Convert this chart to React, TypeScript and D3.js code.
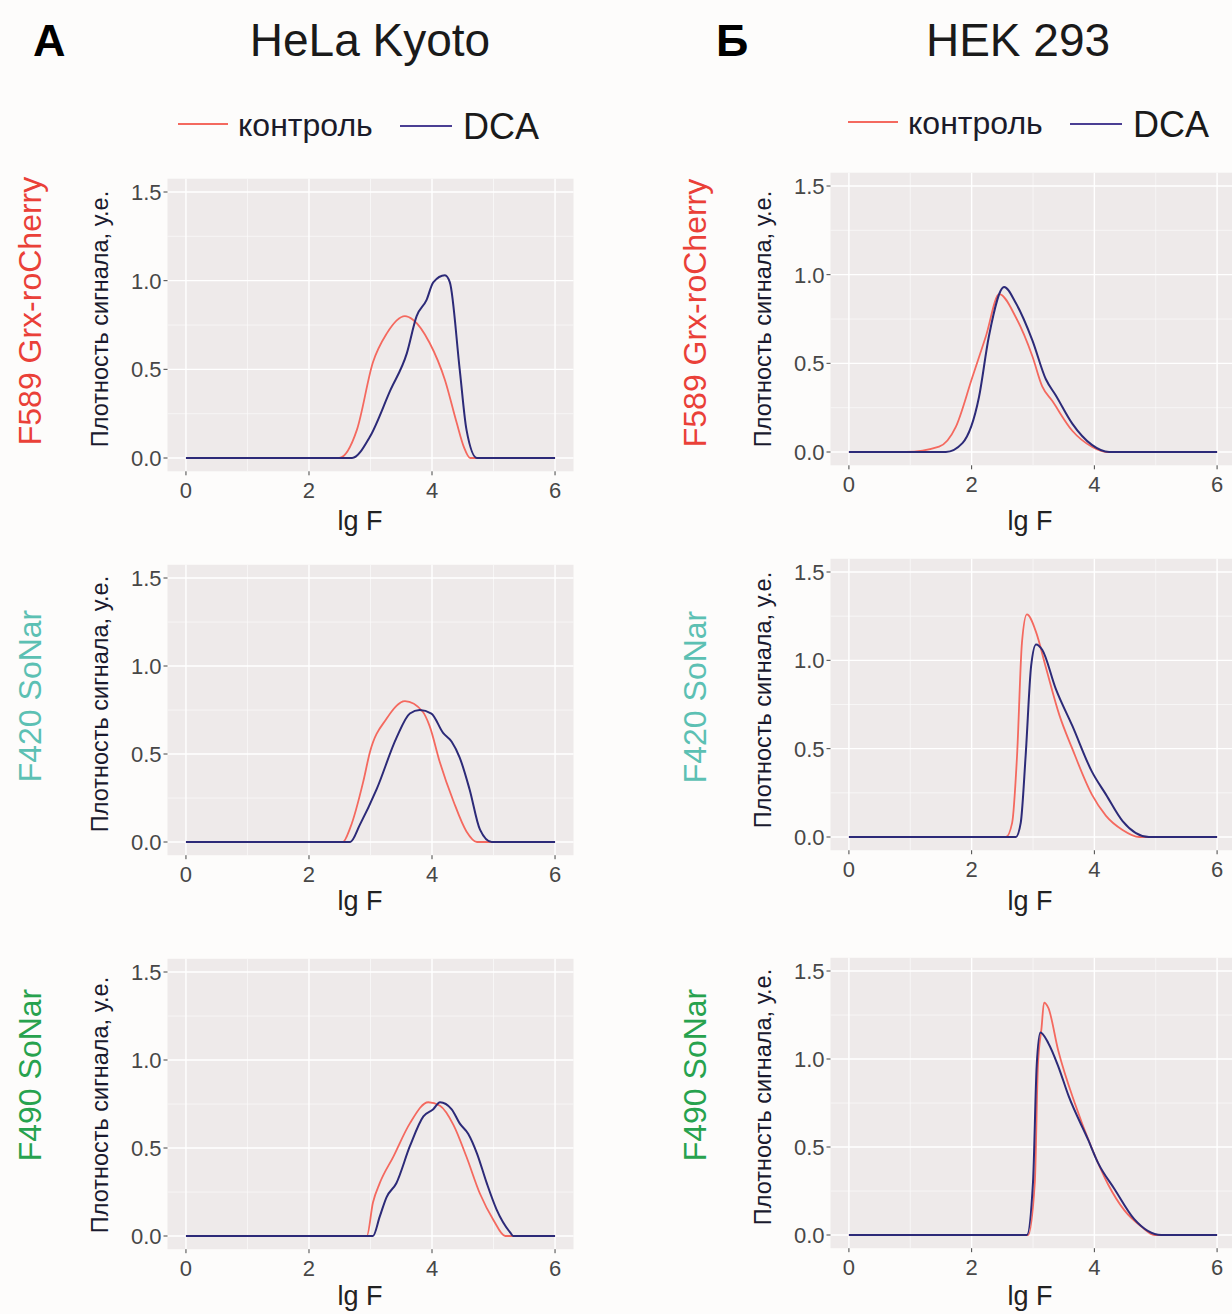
import React from "react";
import * as d3 from "d3";

type Pt = [number, number];

// ---------- data (x = lg F, y = density) ----------
const xTicks = [0, 2, 4, 6];
const xMinor = [1, 3, 5];
const yTicks = [0, 0.5, 1.0, 1.5];
const yMinor = [0.25, 0.75, 1.25];
const seriesNames = ["контроль", "DCA"];
const columnTitles = ["HeLa Kyoto", "HEK 293"];
const columnLetters = ["А", "Б"];
const rowLabels = ["F589 Grx-roCherry", "F420 SoNar", "F490 SoNar"];

const helaGrxCtrl: Pt[] = [[0,0],[2.49,0],[2.78,0.16],[3.04,0.54],[3.26,0.70],[3.56,0.80],[3.69,0.78],[3.96,0.65],[4.21,0.44],[4.4,0.2],[4.52,0.06],[4.62,0],[6,0]];
const helaGrxDca: Pt[] = [[0,0],[2.70,0],[2.99,0.12],[3.32,0.38],[3.59,0.59],[3.75,0.80],[3.91,0.89],[4.02,0.99],[4.21,1.03],[4.29,0.99],[4.45,0.50],[4.56,0.16],[4.73,0],[6,0]];
const hekGrxCtrl: Pt[] = [[0,0],[0.93,0],[1.47,0.03],[1.74,0.14],[2.01,0.42],[2.23,0.65],[2.45,0.89],[2.72,0.76],[2.99,0.54],[3.15,0.37],[3.31,0.29],[3.64,0.12],[3.96,0.03],[4.2,0],[6,0]];
const hekGrxDca: Pt[] = [[0,0],[1.58,0],[1.85,0.05],[2.12,0.31],[2.28,0.65],[2.53,0.93],[2.72,0.84],[2.99,0.63],[3.21,0.41],[3.37,0.32],[3.64,0.16],[3.96,0.04],[4.24,0],[6,0]];

const helaF420Ctrl: Pt[] = [[0,0],[2.55,0],[2.67,0.08],[2.88,0.34],[2.99,0.51],[3.26,0.70],[3.56,0.80],[3.85,0.74],[3.96,0.66],[4.13,0.45],[4.35,0.23],[4.56,0.06],[4.73,0],[6,0]];
const helaF420Dca: Pt[] = [[0,0],[2.67,0],[2.83,0.10],[3.10,0.30],[3.42,0.59],[3.64,0.73],[3.80,0.75],[3.99,0.73],[4.18,0.62],[4.32,0.57],[4.45,0.48],[4.61,0.30],[4.78,0.07],[4.97,0],[6,0]];
const hekF420Ctrl: Pt[] = [[0,0],[2.56,0],[2.66,0.08],[2.74,0.46],[2.82,1.10],[2.90,1.26],[3.05,1.16],[3.21,0.96],[3.43,0.69],[3.64,0.50],[3.96,0.24],[4.19,0.12],[4.46,0.04],[4.73,0],[6,0]];
const hekF420Dca: Pt[] = [[0,0],[2.72,0],[2.80,0.08],[2.88,0.46],[2.97,0.97],[3.05,1.09],[3.15,1.06],[3.37,0.84],[3.64,0.63],[3.96,0.37],[4.19,0.24],[4.46,0.09],[4.89,0],[6,0]];

const helaF490Ctrl: Pt[] = [[0,0],[2.94,0],[3.04,0.19],[3.15,0.30],[3.37,0.45],[3.64,0.64],[3.94,0.76],[4.13,0.74],[4.35,0.63],[4.56,0.45],[4.78,0.24],[5.0,0.09],[5.19,0],[6,0]];
const helaF490Dca: Pt[] = [[0,0],[3.04,0],[3.15,0.11],[3.26,0.22],[3.42,0.30],[3.64,0.51],[3.86,0.68],[4.02,0.72],[4.13,0.76],[4.32,0.72],[4.45,0.64],[4.59,0.58],[4.73,0.47],[4.89,0.30],[5.05,0.15],[5.27,0.02],[5.32,0],[6,0]];
const hekF490Ctrl: Pt[] = [[0,0],[2.92,0],[3.03,0.30],[3.08,0.96],[3.14,1.18],[3.18,1.32],[3.25,1.29],[3.41,1.05],[3.68,0.75],[3.95,0.50],[4.22,0.29],[4.49,0.14],[4.76,0.05],[4.98,0],[6,0]];
const hekF490Dca: Pt[] = [[0,0],[2.90,0],[3.00,0.30],[3.06,0.96],[3.12,1.15],[3.25,1.09],[3.41,0.96],[3.58,0.79],[3.90,0.54],[4.06,0.41],[4.33,0.26],[4.65,0.09],[5.09,0],[6,0]];

// ---------- styling / layout ----------
const FONT = "'Liberation Sans', Arial, Helvetica, sans-serif";
const RED = "#f4695f";
const BLUE = "#2c2a78";
const ROW_COLORS = ["#ea4038", "#5cc0b3", "#27a24e"];
const PANEL_BG = "#eeeaea";

const cols = [
  { xr: [167.5, 573.5], labelX: 29, yTitleX: 100, lgX: 360, legend: { x: 178, y: 124 } },
  { xr: [830.5, 1235.5], labelX: 694, yTitleX: 763, lgX: 1030, legend: { x: 848, y: 122 } },
];
const rowsGeom = [
  [{ y0: 458, y15: 192, lgY: 520, lblY: 311, titleY: 319 }, { y0: 452, y15: 186, lgY: 520, lblY: 313, titleY: 319 }],
  [{ y0: 842, y15: 578, lgY: 900, lblY: 696, titleY: 704 }, { y0: 837, y15: 572, lgY: 900, lblY: 697, titleY: 700 }],
  [{ y0: 1236, y15: 972, lgY: 1295, lblY: 1075, titleY: 1105 }, { y0: 1235, y15: 971, lgY: 1295, lblY: 1075, titleY: 1097 }],
];
const panelData: Pt[][][] = [
  [[helaGrxCtrl, helaGrxDca], [hekGrxCtrl, hekGrxDca]],
  [[helaF420Ctrl, helaF420Dca], [hekF420Ctrl, hekF420Dca]],
  [[helaF490Ctrl, helaF490Dca], [hekF490Ctrl, hekF490Dca]],
];

function Panel({ c, r }: { c: number; r: number }) {
  const col = cols[c];
  const g = rowsGeom[r][c];
  const x = d3.scaleLinear().domain([-0.3, 6.3]).range(col.xr);
  const y = d3.scaleLinear().domain([0, 1.5]).range([g.y0, g.y15]);
  const left = x(-0.3), right = x(6.3), top = y(1.575), bottom = y(-0.075);
  const line = d3.line<Pt>().x((d) => x(d[0])).y((d) => y(d[1])).curve(d3.curveMonotoneX);
  const [ctrl, dca] = panelData[r][c];
  return (
    <g>
      <rect x={left} y={top} width={right - left} height={bottom - top} fill={PANEL_BG} />
      {xMinor.map((v) => (
        <line key={"xm" + v} x1={x(v)} x2={x(v)} y1={top} y2={bottom} stroke="#fbfafa" strokeWidth={0.7} />
      ))}
      {yMinor.map((v) => (
        <line key={"ym" + v} x1={left} x2={right} y1={y(v)} y2={y(v)} stroke="#fbfafa" strokeWidth={0.7} />
      ))}
      {xTicks.map((v) => (
        <line key={"xg" + v} x1={x(v)} x2={x(v)} y1={top} y2={bottom} stroke="#ffffff" strokeWidth={1.4} />
      ))}
      {yTicks.map((v) => (
        <line key={"yg" + v} x1={left} x2={right} y1={y(v)} y2={y(v)} stroke="#ffffff" strokeWidth={1.4} />
      ))}
      <path d={line(ctrl) || ""} fill="none" stroke={RED} strokeWidth={1.8} />
      <path d={line(dca) || ""} fill="none" stroke={BLUE} strokeWidth={2} />
      {yTicks.map((v) => (
        <g key={"yt" + v}>
          <line x1={left - 4} x2={left} y1={y(v)} y2={y(v)} stroke="#444" strokeWidth={1} />
          <text x={left - 6} y={y(v)} dy="0.36em" textAnchor="end" fontSize={22} fill="#474747" fontFamily={FONT}>
            {d3.format(".1f")(v)}
          </text>
        </g>
      ))}
      {xTicks.map((v) => (
        <g key={"xt" + v}>
          <line x1={x(v)} x2={x(v)} y1={bottom} y2={bottom + 4} stroke="#444" strokeWidth={1} />
          <text x={x(v)} y={bottom + 27} textAnchor="middle" fontSize={22} fill="#474747" fontFamily={FONT}>
            {v}
          </text>
        </g>
      ))}
      <text x={col.lgX} y={g.lgY} dy="0.36em" textAnchor="middle" fontSize={27} fill="#222" fontFamily={FONT}>
        lg F
      </text>
      <text
        transform={`translate(${col.yTitleX},${g.titleY}) rotate(-90)`}
        dy="0.36em"
        textAnchor="middle"
        fontSize={23.5}
        fill="#1a1a2e"
        fontFamily={FONT}
      >
        Плотность сигнала, у.е.
      </text>
      <text
        transform={`translate(${col.labelX},${g.lblY}) rotate(-90)`}
        dy="0.36em"
        textAnchor="middle"
        fontSize={32}
        fill={ROW_COLORS[r]}
        fontFamily={FONT}
      >
        {rowLabels[r]}
      </text>
    </g>
  );
}

function Legend({ c }: { c: number }) {
  const { x, y } = cols[c].legend;
  return (
    <g fontFamily={FONT}>
      <line x1={x} x2={x + 50} y1={y} y2={y} stroke={RED} strokeWidth={2} />
      <text x={x + 60} y={y} dy="0.36em" fontSize={32} fill="#1b1b2a">{seriesNames[0]}</text>
      <line x1={x + 222} x2={x + 274} y1={y + 2} y2={y + 2} stroke="#4b3f93" strokeWidth={2} />
      <text x={x + 285} y={y + 2} dy="0.36em" fontSize={36} fill="#1a1a1a">{seriesNames[1]}</text>
    </g>
  );
}

export default function App() {
  return (
    <div style={{ position: "absolute", left: 0, top: 0, width: 1232, height: 1314, background: "#fdfcfb" }}>
      <svg width={1232} height={1314} viewBox="0 0 1232 1314">
        <rect x={0} y={0} width={1232} height={1314} fill="#fdfcfb" />
        <text x={33} y={56} fontSize={45} fontWeight="bold" fill="#000" fontFamily={FONT}>{columnLetters[0]}</text>
        <text x={370} y={56} textAnchor="middle" fontSize={46} fill="#1a1a1a" fontFamily={FONT}>{columnTitles[0]}</text>
        <text x={716} y={56} fontSize={45} fontWeight="bold" fill="#000" fontFamily={FONT}>{columnLetters[1]}</text>
        <text x={1018} y={56} textAnchor="middle" fontSize={46} fill="#1a1a1a" fontFamily={FONT}>{columnTitles[1]}</text>
        <Legend c={0} />
        <Legend c={1} />
        {[0, 1, 2].map((r) => [0, 1].map((c) => <Panel key={`${r}-${c}`} r={r} c={c} />))}
      </svg>
    </div>
  );
}
